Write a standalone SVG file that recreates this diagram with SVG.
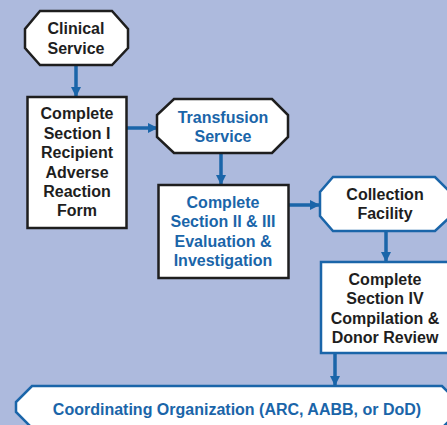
<svg xmlns="http://www.w3.org/2000/svg" width="447" height="425" viewBox="0 0 447 425">
  <defs>
    <marker id="arrow" viewBox="0 0 10 10" refX="9" refY="5" markerWidth="10" markerHeight="10" markerUnits="userSpaceOnUse" orient="auto">
      <path d="M0,0 L10,5 L0,10 Z" fill="#1a65a9"/>
    </marker>
    <style>
      .lbl { font-family: "Liberation Sans", Arial, sans-serif; font-weight: bold; font-size: 16px; text-anchor: middle; }
      .dark { fill: #1e1e1e; }
      .blue { fill: #1a65a9; }
      .edgeK { fill: #ffffff; stroke: #1e1e1e; stroke-width: 2.5; stroke-linejoin: miter; }
      .edgeB { fill: #ffffff; stroke: #1a65a9; stroke-width: 2.5; stroke-linejoin: miter; }
      .link { fill: none; stroke: #1a65a9; stroke-width: 3.5; marker-end: url(#arrow); }
    </style>
  </defs>

  <rect x="0" y="0" width="447" height="425" fill="#adbadd"/>

  <g id="connectors">
    <line class="link" x1="76" y1="65" x2="76" y2="96"/>
    <line class="link" x1="127" y1="128" x2="157" y2="128"/>
    <line class="link" x1="221" y1="153" x2="221" y2="184"/>
    <line class="link" x1="289" y1="205" x2="319" y2="205"/>
    <line class="link" x1="386" y1="231" x2="386" y2="261"/>
    <line class="link" x1="335" y1="353" x2="335" y2="385"/>
  </g>

  <g id="clinical-service">
    <polygon class="edgeK" points="40,11 112,11 128,29 128,48 112,65 40,65 25,48 25,29"/>
    <text class="lbl dark" x="76" y="33.5">Clinical</text>
    <text class="lbl dark" x="76" y="53.5">Service</text>
  </g>

  <g id="section-1">
    <rect class="edgeK" x="27.5" y="97" width="99" height="131"/>
    <text class="lbl dark" x="77" y="119">Complete</text>
    <text class="lbl dark" x="77" y="138.5">Section I</text>
    <text class="lbl dark" x="77" y="158">Recipient</text>
    <text class="lbl dark" x="77" y="177.5">Adverse</text>
    <text class="lbl dark" x="77" y="197">Reaction</text>
    <text class="lbl dark" x="77" y="216">Form</text>
  </g>

  <g id="transfusion-service">
    <polygon class="edgeK" points="174,99 272,99 288,115 288,137 272,153 174,153 157,137 157,115"/>
    <text class="lbl blue" x="223" y="122.5">Transfusion</text>
    <text class="lbl blue" x="223" y="141.5">Service</text>
  </g>

  <g id="section-2-3">
    <rect class="edgeK" x="158.5" y="185" width="130" height="93"/>
    <text class="lbl blue" x="223" y="207.5">Complete</text>
    <text class="lbl blue" x="223" y="227">Section II &amp; III</text>
    <text class="lbl blue" x="223" y="246.5">Evaluation &amp;</text>
    <text class="lbl blue" x="223" y="266">Investigation</text>
  </g>

  <g id="collection-facility">
    <polygon class="edgeB" points="333,177 435,177 451,193 451,216 435,231 333,231 320,216 320,192"/>
    <text class="lbl dark" x="385" y="199.5">Collection</text>
    <text class="lbl dark" x="385" y="218.5">Facility</text>
  </g>

  <g id="section-4">
    <rect class="edgeB" x="321" y="262" width="135" height="91"/>
    <text class="lbl dark" x="385" y="284.5">Complete</text>
    <text class="lbl dark" x="385" y="304">Section IV</text>
    <text class="lbl dark" x="385" y="323.5">Compilation &amp;</text>
    <text class="lbl dark" x="385" y="342.5">Donor Review</text>
  </g>

  <g id="coordinating-organization">
    <polygon class="edgeB" points="32,386 442,386 458,402 458,412 442,428 32,428 16,412 16,402"/>
    <text class="lbl blue" x="237" y="414.5">Coordinating Organization (ARC, AABB, or DoD)</text>
  </g>
</svg>
